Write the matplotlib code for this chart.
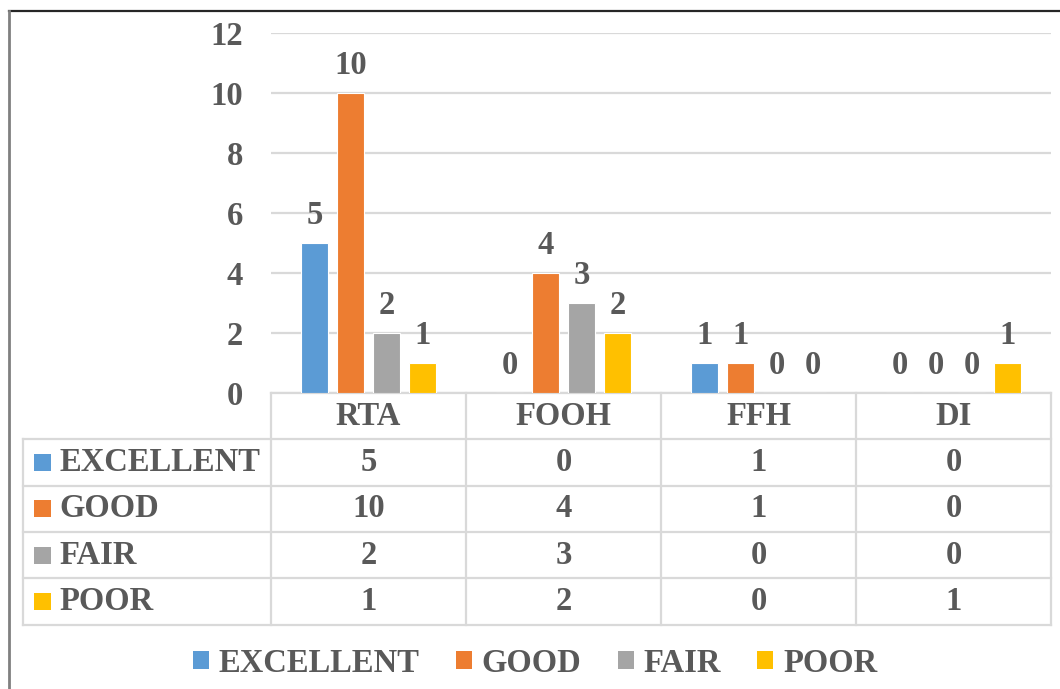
import numpy as np
import matplotlib.pyplot as plt
from matplotlib.patches import Rectangle, Patch
from matplotlib.lines import Line2D

# ratings per category
categories = ["RTA", "FOOH", "FFH", "DI"]
series_names = ["EXCELLENT", "GOOD", "FAIR", "POOR"]
excellent = [5, 0, 1, 0]
good = [10, 4, 1, 0]
fair = [2, 3, 0, 0]
poor = [1, 2, 0, 1]
colors = ["#5B9BD5", "#ED7D31", "#A5A5A5", "#FFC000"]

series = [excellent, good, fair, poor]
text_color = "#595959"
grid_color = "#D9D9D9"
fs = 23.5

plt.rcParams['font.family'] = ['Liberation Serif', 'DejaVu Serif']
plt.rcParams['font.weight'] = 'bold'

W, H = 1060, 689
fig = plt.figure(figsize=(W / 100, H / 100), dpi=100)

# plot area in pixels: x 271..1051, y 33..393
ax = fig.add_axes([271 / W, 1 - 393 / H, 780 / W, 360 / H])

x = np.arange(len(categories))
step = 0.1846
width = 0.1415
for i, (vals, name, c) in enumerate(zip(series, series_names, colors)):
    bars = ax.bar(x + (i - 1.5) * step, vals, width, color=c, edgecolor="white",
                  linewidth=0.8, label=name, zorder=3)
    ax.bar_label(bars, padding=9, fontsize=fs, color=text_color, fontweight='bold')

ax.set_xlim(-0.5, len(categories) - 0.5)
ax.set_ylim(0, 12)
ax.set_yticks(range(0, 13, 2))
ax.tick_params(axis='y', length=0, pad=20, labelsize=fs, labelcolor=text_color)
ax.set_xticks([])
ax.yaxis.grid(True, color=grid_color, linewidth=1.6, zorder=0)
for s in ax.spines.values():
    s.set_visible(False)

# data table under the plot, in axes fraction
rh = 46.3 / 360
left = (23 - 271) / 780
n_rows = len(series_names)
line_kw = dict(color=grid_color, linewidth=1.6, clip_on=False, transform=ax.transAxes)

ax.add_line(Line2D([0, 1], [0, 0], **line_kw))
for k in range(1, n_rows + 2):
    ax.add_line(Line2D([left, 1], [-k * rh, -k * rh], **line_kw))
for k in range(len(categories) + 1):
    xf = k / len(categories)
    ax.add_line(Line2D([xf, xf], [0, -(n_rows + 1) * rh], **line_kw))
ax.add_line(Line2D([left, left], [-rh, -(n_rows + 1) * rh], **line_kw))

for j, cat in enumerate(categories):
    ax.text((j + 0.5) / len(categories), -0.5 * rh, cat, transform=ax.transAxes,
            ha='center', va='center', fontsize=fs, color=text_color)

key_w = 17 / 780
key_h = 17 / 360
for i, (vals, name, c) in enumerate(zip(series, series_names, colors)):
    yc = -(i + 1.5) * rh
    ax.add_patch(Rectangle(((34 - 271) / 780, yc - key_h / 2), key_w, key_h,
                           facecolor=c, edgecolor='none', transform=ax.transAxes,
                           clip_on=False))
    ax.text((59 - 271) / 780, yc, name, transform=ax.transAxes, ha='left',
            va='center', fontsize=fs, color=text_color)
    for j, v in enumerate(vals):
        ax.text((j + 0.5) / len(categories), yc, str(v), transform=ax.transAxes,
                ha='center', va='center', fontsize=fs, color=text_color)

# legend at the bottom
handles = [Patch(facecolor=c, edgecolor='none') for c in colors]
leg = fig.legend(handles, series_names, loc='center', bbox_to_anchor=(535 / W, 1 - 663 / H),
                 ncol=4, frameon=False, fontsize=fs, handlelength=0.5, handleheight=0.5,
                 handletextpad=0.3, columnspacing=1.1, borderpad=0)
for t in leg.get_texts():
    t.set_color(text_color)

# chart frame
fig.add_artist(Line2D([9 / W, 1], [1 - 11 / H, 1 - 11 / H], color="#262626", linewidth=1.6))
fig.add_artist(Line2D([9 / W, 9 / W], [0, 1 - 11 / H], color="#808080", linewidth=2))

fig.savefig("out.png", dpi=100)
